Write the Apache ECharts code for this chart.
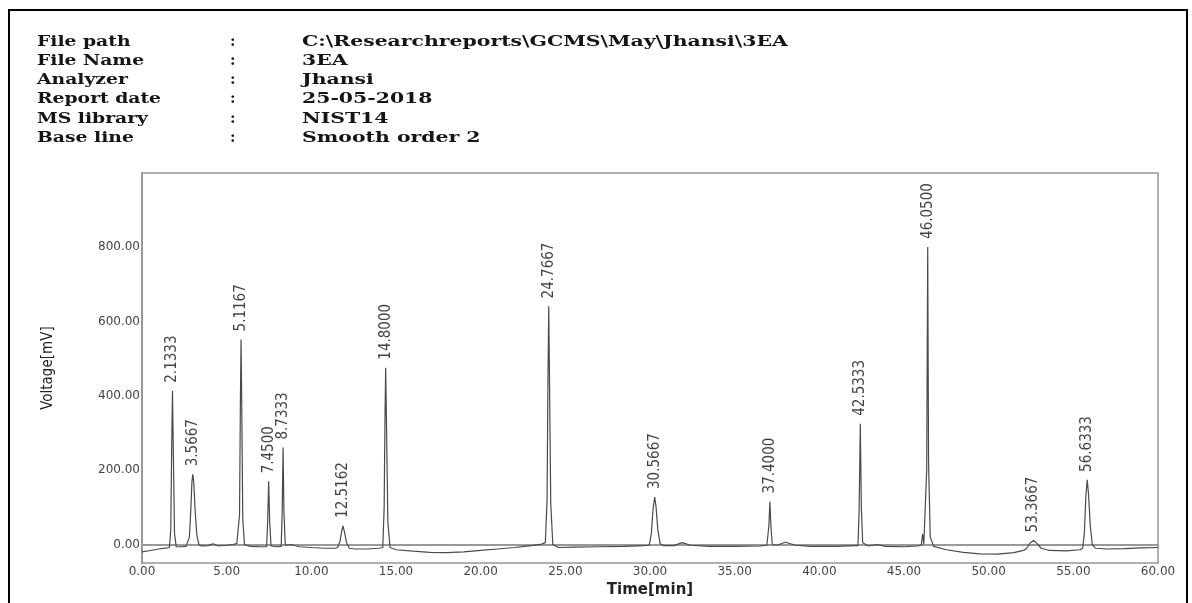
<!DOCTYPE html>
<html>
<head>
<meta charset="utf-8">
<script src="https://cdn.jsdelivr.net/npm/echarts@6/dist/echarts.min.js"></script>
<style>
html,body{margin:0;padding:0;background:#fff;}
#chart{width:1192px;height:603px;}
</style>
</head>
<body>
<div id="chart"></div>
<script>
// ---- header text ----
const headerKeys = ['File path', 'File Name', 'Analyzer', 'Report date', 'MS library', 'Base line'];
const headerValues = ['C:\\Researchreports\\GCMS\\May\\Jhansi\\3EA', '3EA', 'Jhansi', '25-05-2018', 'NIST14', 'Smooth order 2'];

// ---- axes ----
const xTicks = [0, 5, 10, 15, 20, 25, 30, 35, 40, 45, 50, 55, 60];
const yTicks = [0, 200, 400, 600, 800];
const xName = 'Time[min]';
const yName = 'Voltage[mV]';

// ---- peak annotations (apex as drawn, label text) ----
const peakTimes   = [1.80, 3.00, 5.85, 7.48, 8.33, 11.87, 14.39, 24.02, 30.28, 37.08, 42.42, 46.40, 52.65, 55.82];
const peakHeights = [414, 189, 552, 170, 261, 50, 476, 641, 128, 116, 325, 801, 11, 174];
const peakLabels  = ['2.1333', '3.5667', '5.1167', '7.4500', '8.7333', '12.5162', '14.8000', '24.7667', '30.5667', '37.4000', '42.5333', '46.0500', '53.3667', '56.6333'];

// ---- chromatogram trace [time (min), voltage (mV)] ----
const traceTime = [
  0, 0.5, 1.0, 1.5,
  1.62, 1.70, 1.75, 1.80, 1.85, 1.92, 2.02,
  2.3, 2.6,
  2.70, 2.80, 2.88, 2.95, 3.00, 3.06, 3.14, 3.24, 3.36, 3.5,
  3.9, 4.2, 4.5, 5.0, 5.4, 5.6,
  5.70, 5.76, 5.81, 5.85, 5.89, 5.95, 6.05,
  6.4, 7.0,
  7.36, 7.42, 7.48, 7.54, 7.62,
  7.9,
  8.22, 8.28, 8.33, 8.38, 8.46,
  8.8, 9.3, 10.0, 10.8, 11.4,
  11.55, 11.70, 11.80, 11.87, 11.95, 12.08, 12.25,
  12.6, 13.3, 14.0,
  14.22, 14.30, 14.35, 14.39, 14.44, 14.52, 14.65,
  15.0, 16, 17, 18, 19, 20, 21, 22, 23, 23.6,
  23.82, 23.92, 23.97, 24.02, 24.07, 24.14, 24.26,
  24.6, 25.5, 27, 28.5, 29.6,
  29.95, 30.08, 30.18, 30.28, 30.36, 30.46, 30.6, 30.8,
  31.4, 31.9, 32.4, 33.5, 35, 36.5, 36.9,
  36.96, 37.02, 37.08, 37.14, 37.22,
  37.5, 38.0, 38.6, 39.5, 41, 42.1,
  42.28, 42.35, 42.42, 42.48, 42.56,
  42.9, 43.4, 43.9, 45, 45.8,
  46.02, 46.10, 46.17,
  46.28, 46.34, 46.40, 46.45, 46.55, 46.75,
  47.5, 48.5, 49.5, 50.5, 51.5, 52.1,
  52.25, 52.45, 52.65, 52.85, 53.1,
  53.6, 54.6, 55.4,
  55.55, 55.65, 55.74, 55.82, 55.90, 56.00, 56.12, 56.3,
  57, 58, 59, 60
];
const traceVolt = [
  -20, -16, -12, -9,
  -8, 40, 250, 414, 250, 30, -6,
  -6, -5,
  -4, 20, 90, 170, 189, 165, 90, 25, 0, -4,
  -3, 2, -4, -2, 0, 3,
  5, 80, 380, 552, 380, 70, 0,
  -5, -6,
  -6, 60, 170, 60, -4,
  -6,
  -5, 90, 261, 90, -2,
  0, -6, -8, -10, -10,
  -8, 10, 38, 50, 35, 5, -10,
  -12, -12, -10,
  -8, 100, 340, 476, 320, 60, -8,
  -14, -18, -21, -22, -20, -16, -12, -8, -3, 1,
  5, 120, 420, 641, 420, 110, 0,
  -8, -7, -6, -5, -3,
  -2, 30, 95, 128, 100, 40, 2, -3,
  -3, 5, -2, -5, -5, -4, -2,
  -2, 50, 116, 50, 0,
  -2, 6, -2, -5, -5, -3,
  -3, 90, 325, 100, 5,
  -4, 0, -5, -6, -4,
  -2, 29, 0,
  0, 200, 801, 220, 20, -5,
  -14, -21, -25, -26, -22, -15,
  -10, 4, 11, 3, -10,
  -16, -17, -14,
  -10, 30, 130, 174, 135, 50, 0, -10,
  -12, -11, -9, -8
];

const chart = echarts.init(document.getElementById('chart'), null, {renderer: 'canvas'});

const headerFont = 'bold 15px "DejaVu Serif", "Liberation Serif", serif';
const graphics = [
  {type: 'rect', shape: {x: 9, y: 10, width: 1178, height: 610}, style: {fill: 'none', stroke: '#000', lineWidth: 2}, silent: true}
];
headerKeys.forEach((k, i) => {
  const y = 42 + i * 19.2;
  graphics.push({type: 'text', x: 37, y: y, scaleX: 1.25, style: {text: k, font: headerFont, fill: '#151515', verticalAlign: 'middle'}});
  graphics.push({type: 'text', x: 230, y: y, style: {text: ':', font: headerFont, fill: '#151515', verticalAlign: 'middle'}});
  graphics.push({type: 'text', x: 302, y: y, scaleX: 1.36, style: {text: headerValues[i], font: headerFont, fill: '#151515', verticalAlign: 'middle'}});
});

const option = {
  animation: false,
  backgroundColor: '#fff',
  graphic: graphics,
  grid: {left: 142, right: 34, top: 173, bottom: 38, show: true, borderColor: '#b0b0b0', borderWidth: 2, backgroundColor: 'transparent'},
  xAxis: {
    type: 'value', min: xTicks[0], max: xTicks[xTicks.length - 1], interval: 5,
    name: xName, nameLocation: 'middle', nameGap: 12,
    nameTextStyle: {fontFamily: 'DejaVu Sans', fontWeight: 'bold', fontSize: 15, color: '#222'},
    axisLine: {show: true, lineStyle: {color: '#999', width: 2}},
    axisTick: {show: false},
    splitLine: {show: false},
    axisLabel: {show: true, margin: 3, fontFamily: 'DejaVu Sans', fontSize: 12, color: '#444',
      showMinLabel: true, showMaxLabel: true,
      customValues: xTicks,
      formatter: v => Number(v).toFixed(2)}
  },
  yAxis: {
    type: 'value', min: -50, max: 1000,
    name: yName, nameLocation: 'middle', nameGap: 86, nameRotate: 90,
    nameTextStyle: {fontFamily: '"Liberation Sans Narrow", "DejaVu Sans Condensed", "Roboto Condensed", sans-serif', fontSize: 15, color: '#222'},
    axisLine: {show: true, lineStyle: {color: '#999', width: 2}},
    axisTick: {show: false},
    splitLine: {show: false},
    axisLabel: {show: true, margin: 2, fontFamily: 'DejaVu Sans', fontSize: 12, color: '#444',
      customValues: yTicks,
      formatter: v => Number(v).toFixed(2)}
  },
  series: [
    {
      type: 'line',
      data: traceTime.map((t, i) => [t, traceVolt[i]]),
      showSymbol: false,
      symbol: 'none',
      lineStyle: {color: '#4a4a4a', width: 1.2},
      silent: true
    },
    {
      type: 'scatter',
      data: peakTimes.map((t, i) => ({value: [t, peakHeights[i]], name: peakLabels[i]})),
      symbolSize: 0,
      silent: true,
      label: {
        show: true, formatter: '{b}', position: 'top', distance: 8, rotate: 90,
        align: 'left', verticalAlign: 'middle',
        fontFamily: '"Liberation Sans Narrow", "DejaVu Sans Condensed", "Roboto Condensed", sans-serif',
        fontSize: 15, color: '#111'
      }
    }
  ]
};
chart.setOption(option);
</script>
</body>
</html>
